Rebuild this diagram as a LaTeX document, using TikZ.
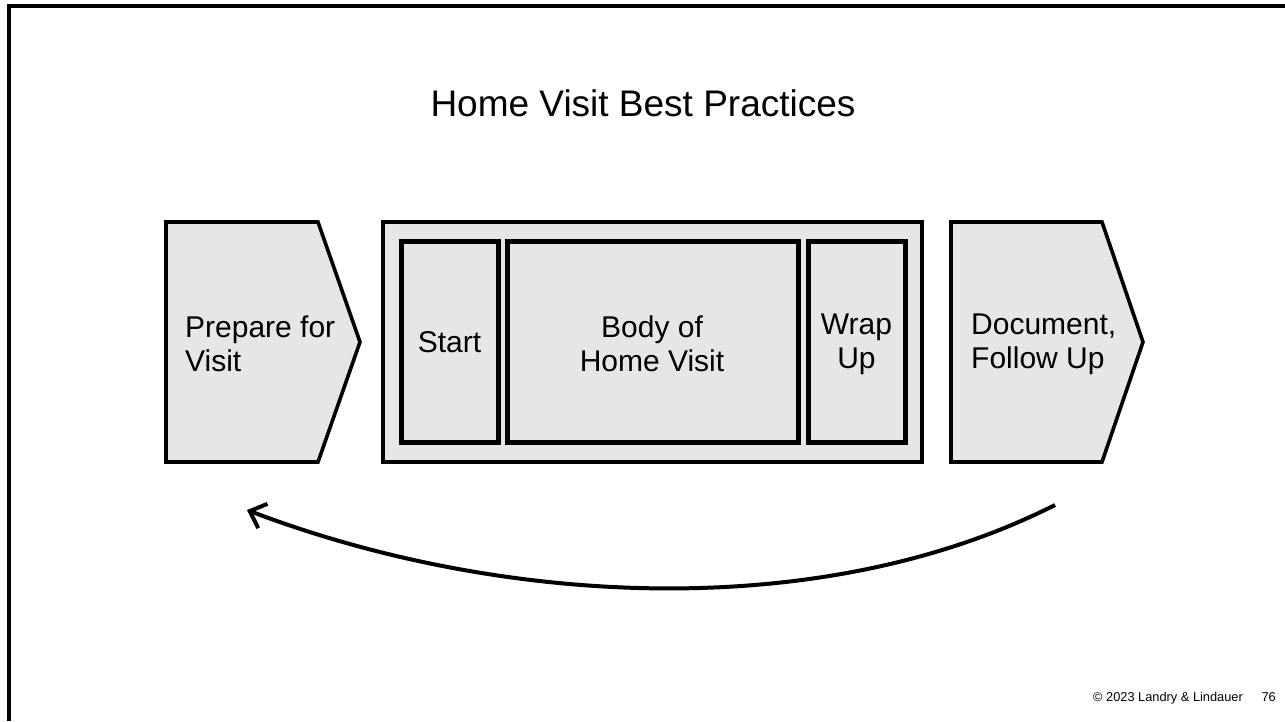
\documentclass[tikz,border=0pt]{standalone}
\usepackage{fontspec}
\setmainfont{Liberation Sans}
\usetikzlibrary{arrows.meta}
\definecolor{boxgray}{HTML}{E6E6E6}
\begin{document}
\begin{tikzpicture}[x=1pt,y=-1pt,
  chev/.style={draw=black,fill=boxgray,line width=3.6pt,line join=miter},
  outerbox/.style={draw=black,fill=boxgray,line width=4pt},
  innerbox/.style={draw=black,fill=boxgray,line width=5pt},
  lbl/.style={font=\fontsize{30}{34}\selectfont,inner sep=0pt},
  foot/.style={font=\fontsize{12.8}{15}\selectfont,inner sep=0pt},
  loopback/.style={line width=4pt,-{Straight Barb[length=14pt,width=26pt]}}]
\useasboundingbox (0,0) rectangle (1285,721);
\fill[white] (0,0) rectangle (1285,721);
\draw[line width=3.5pt] (9,721) -- (9,6) -- (1285,6);
\node[font=\fontsize{37}{42}\selectfont] (title) at (643,103) {Home Visit Best Practices};
% prepare chevron
\draw[chev] (166,222) -- (318,222) -- (360,342) -- (318,462) -- (166,462) -- cycle;
% outer box and inner boxes
\draw[outerbox] (383,222) rectangle (922,462);
\draw[innerbox] (401,241) rectangle (498,442);
\draw[innerbox] (507,241) rectangle (798,442);
\draw[innerbox] (808,241) rectangle (905,442);
% document chevron
\draw[chev] (951,222) -- (1102,222) -- (1143,342) -- (1102,462) -- (951,462) -- cycle;
% labels
\node[lbl,anchor=west,align=left] (prep) at (185,344) {Prepare for\\Visit};
\node[lbl] (start) at (449.5,342) {Start};
\node[lbl,align=center] (body) at (652,344) {Body of\\Home Visit};
\node[lbl,align=center] (wrap) at (856.5,344) {Wrap\\Up};
\node[lbl,anchor=west,align=left] (doc) at (971,344) {Document,\\Follow Up};
% loop-back arrow
\coordinate (from) at (1055,505);
\coordinate (to) at (247,510);
\draw[loopback] (from) .. controls (817,625) and (497,605) .. (to);
% footer
\node[foot,anchor=base west] (copy) at (1093,701) {© 2023 Landry \& Lindauer};
\node[foot,anchor=base east] (page) at (1276,701) {76};
\end{tikzpicture}
\end{document}
